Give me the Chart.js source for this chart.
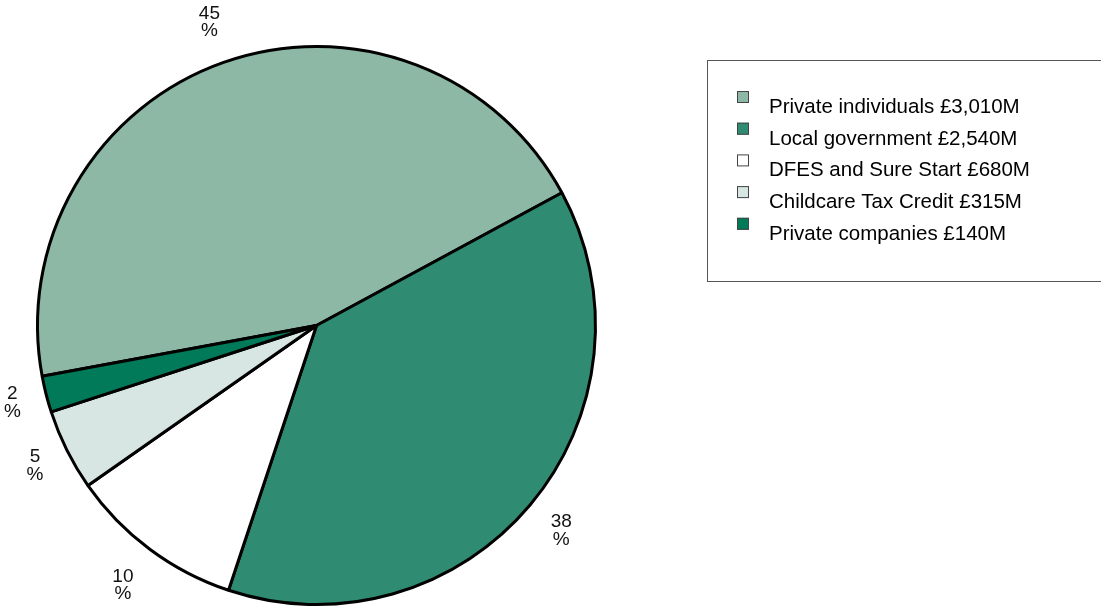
<!DOCTYPE html>
<html>
<head>
<meta charset="utf-8">
<script src="https://cdn.jsdelivr.net/npm/chart.js@4"></script>
<style>
  html, body { margin: 0; padding: 0; background: #fff; }
  #wrap { width: 1101px; height: 608px; position: relative; }
</style>
</head>
<body>
<div id="wrap"><canvas id="chart"></canvas></div>
<script>
// Childcare funding by source (£M)
const labels = ['Private individuals', 'Local government', 'DFES and Sure Start', 'Childcare Tax Credit', 'Private companies'];
const amounts = [3010, 2540, 680, 315, 140];
const colors = ['#8cb8a5', '#2f8c73', '#ffffff', '#d7e6e2', '#007a59'];

const FONT = '"Liberation Sans", Arial, sans-serif';

function fmt(n) {
    return String(n).replace(/\B(?=(\d{3})+(?!\d))/g, ',');
}

// "45 / %" labels outside each slice
const pctLabels = {
    id: 'pctLabels',
    afterDatasetsDraw(chart) {
        const { ctx } = chart;
        const meta = chart.getDatasetMeta(0);
        const total = amounts.reduce((a, b) => a + b, 0);
        const lh = 17.5;
        ctx.save();
        ctx.font = '19px ' + FONT;
        ctx.fillStyle = '#111';
        ctx.textAlign = 'center';
        ctx.textBaseline = 'middle';
        meta.data.forEach((arc, i) => {
            const { x, y, startAngle, endAngle, outerRadius } =
                arc.getProps(['x', 'y', 'startAngle', 'endAngle', 'outerRadius'], true);
            const mid = (startAngle + endAngle) / 2;
            const lines = [String(Math.round(amounts[i] / total * 100)), '%'];
            const hw = Math.max(...lines.map(t => ctx.measureText(t).width)) / 2 + 2;
            const c = Math.abs(Math.cos(mid)), s = Math.abs(Math.sin(mid));
            const ext = Math.min(c ? hw / c : Infinity, s ? lh / s : Infinity);
            const r = outerRadius + 24 + ext;
            const cx = x + Math.cos(mid) * r;
            const cy = y + Math.sin(mid) * r;
            ctx.fillText(lines[0], cx, cy - lh / 2);
            ctx.fillText(lines[1], cx, cy + lh / 2);
        });
        ctx.restore();
    },
};

// boxed legend on the right
const boxLegend = {
    id: 'boxLegend',
    afterDraw(chart) {
        const { ctx } = chart;
        ctx.save();
        ctx.strokeStyle = '#555';
        ctx.lineWidth = 1;
        ctx.strokeRect(707.5, 60.5, 420, 221);
        ctx.font = '20.5px ' + FONT;
        ctx.textAlign = 'left';
        ctx.textBaseline = 'alphabetic';
        labels.forEach((lab, i) => {
            const base = 113 + i * 31.7;
            ctx.fillStyle = colors[i];
            ctx.fillRect(737, base - 22, 12, 12);
            ctx.strokeStyle = '#444';
            ctx.strokeRect(737.5, base - 21.5, 11, 11);
            ctx.fillStyle = '#000';
            ctx.fillText(`${lab} £${fmt(amounts[i])}M`, 769, base);
        });
        ctx.restore();
    },
};

new Chart(document.getElementById('chart'), {
    type: 'pie',
    data: {
        labels,
        datasets: [{
            data: amounts,
            backgroundColor: colors,
            borderColor: '#000',
            borderWidth: 3,
        }],
    },
    options: {
        responsive: true,
        maintainAspectRatio: false,
        animation: false,
        rotation: 259.5,
        layout: { padding: { left: 36, right: 504, top: 45, bottom: 2 } },
        plugins: {
            legend: { display: false },
            tooltip: { enabled: false },
        },
    },
    plugins: [pctLabels, boxLegend],
});
</script>
</body>
</html>
